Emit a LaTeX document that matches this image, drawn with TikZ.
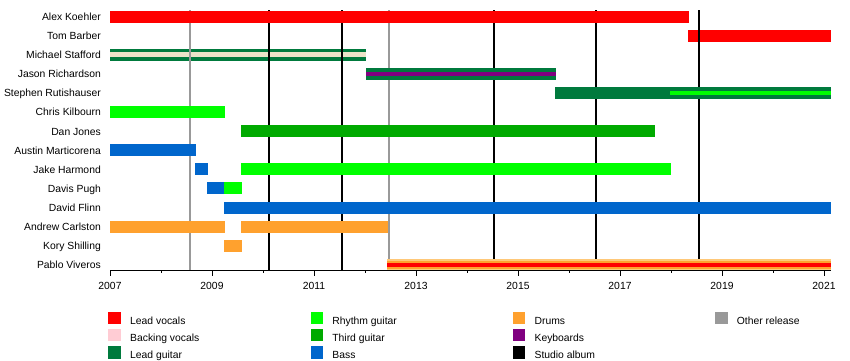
\documentclass[tikz,border=0pt]{standalone}
\usepackage{fontspec}
\setmainfont{Liberation Sans}
\definecolor{leadvoc}{RGB}{255,0,0}
\definecolor{backvoc}{RGB}{255,204,212}
\definecolor{leadgtr}{RGB}{0,122,61}
\definecolor{rhygtr}{RGB}{0,255,0}
\definecolor{thirdgtr}{RGB}{0,170,0}
\definecolor{bass}{RGB}{0,102,204}
\definecolor{drums}{RGB}{255,161,46}
\definecolor{drumsedge}{RGB}{255,200,120}
\definecolor{keys}{RGB}{128,0,128}
\definecolor{otherrel}{RGB}{153,153,153}
\definecolor{bvstripe}{RGB}{237,227,200}
\newcommand\rowy[1]{16.5+19.1*#1}
\newcommand\tlbar[4]{\fill[#4] (#1,{\rowy{#3}-6}) rectangle (#2,{\rowy{#3}+6});}
\newcommand\tlstripe[5]{\fill[#4] (#1,{\rowy{#3}-#5}) rectangle (#2,{\rowy{#3}+#5});}
\begin{document}
\begin{tikzpicture}[x=1bp,y=-1bp,
  every node/.style={font=\fontsize{10.4}{12}\selectfont, inner sep=0pt},
  namelbl/.style={anchor=base east},
  yearlbl/.style={anchor=base},
  leglbl/.style={anchor=base west},
  studio/.style={draw=black, line width=2.5bp},
  other/.style={draw=otherrel, line width=2bp},
  axisline/.style={draw=black, line width=0.9bp}]
\useasboundingbox[fill=white] (0,0) rectangle (850,360);

% bars drawn beneath the release lines
\tlbar{110}{366}{2}{leadgtr}
\tlstripe{110}{366}{2}{bvstripe}{2.4}
\tlbar{688}{831}{1}{leadvoc}

% release lines
\coordinate (o1t) at (190,10); \coordinate (o1b) at (190,270);
\coordinate (o2t) at (389,10); \coordinate (o2b) at (389,270);
\draw[other] (o1t) -- (o1b);
\draw[other] (o2t) -- (o2b);
\foreach \xx/\nm in {269/s1,342/s2,494/s3,596/s4,699/s5}{
  \coordinate (\nm t) at (\xx,10); \coordinate (\nm b) at (\xx,270);
  \draw[studio] (\nm t) -- (\nm b);
}

% bars
\tlbar{110}{689}{0}{leadvoc}
\tlbar{366}{556}{3}{leadgtr}
\tlstripe{366}{556}{3}{keys}{2.3}
\tlbar{555}{831}{4}{leadgtr}
\tlstripe{670}{831}{4}{rhygtr}{2}
\tlbar{110}{225}{5}{rhygtr}
\tlbar{241}{655}{6}{thirdgtr}
\tlbar{110}{196}{7}{bass}
\tlbar{195}{208}{8}{bass}
\tlbar{241}{671}{8}{rhygtr}
\tlbar{207}{224}{9}{bass}
\tlbar{224}{242}{9}{rhygtr}
\tlbar{224}{831}{10}{bass}
\tlbar{110}{225}{11}{drums}
\tlbar{241}{388}{11}{drums}
\tlbar{224}{242}{12}{drums}
\fill[drumsedge] (387,259) rectangle (831,270);
\fill[drums] (387,260.5) rectangle (831,268.7);
\fill[leadvoc] (387,262.7) rectangle (831,267.2);

% names
\foreach \nm [count=\i from 0] in {Alex Koehler,Tom Barber,Michael Stafford,Jason Richardson,Stephen Rutishauser,Chris Kilbourn,Dan Jones,Austin Marticorena,Jake Harmond,Davis Pugh,David Flinn,Andrew Carlston,Kory Shilling,Pablo Viveros}{
  \node[namelbl] (n\i) at (101,{\rowy{\i}+3.9}) {\nm};
}

% axis
\coordinate (ax0) at (110,270); \coordinate (ax1) at (831,270);
\draw[axisline] (ax0) -- (ax1);
\foreach \k in {0,...,14}{
  \pgfmathsetmacro\xx{110+51*\k}
  \pgfmathtruncatemacro\odd{mod(\k,2)}
  \coordinate (tk\k) at (\xx,270);
  \ifnum\odd=0
    \draw[axisline] (tk\k) -- ++(0,5.5);
    \pgfmathtruncatemacro\yr{2007+\k}
    \node[yearlbl] (yl\k) at (\xx,289) {\yr};
  \else
    \draw[axisline] (tk\k) -- ++(0,3);
  \fi
}

% legend
\foreach \col/\row/\clr/\txt/\nm in {
  0/0/leadvoc/Lead vocals/l1, 0/1/backvoc/Backing vocals/l2, 0/2/leadgtr/Lead guitar/l3,
  1/0/rhygtr/Rhythm guitar/l4, 1/1/thirdgtr/Third guitar/l5, 1/2/bass/Bass/l6,
  2/0/drums/Drums/l7, 2/1/keys/Keyboards/l8, 2/2/black/Studio album/l9,
  3/0/otherrel/Other release/l10}{
  \pgfmathsetmacro\lx{108.3+202.2*\col}
  \pgfmathsetmacro\ly{311.7+17.1*\row}
  \fill[\clr] (\lx,\ly) rectangle ++(12.7,12.6);
  \node[leglbl] (\nm) at (\lx+21.7,\ly+12.4) {\txt};
}
\end{tikzpicture}
\end{document}
